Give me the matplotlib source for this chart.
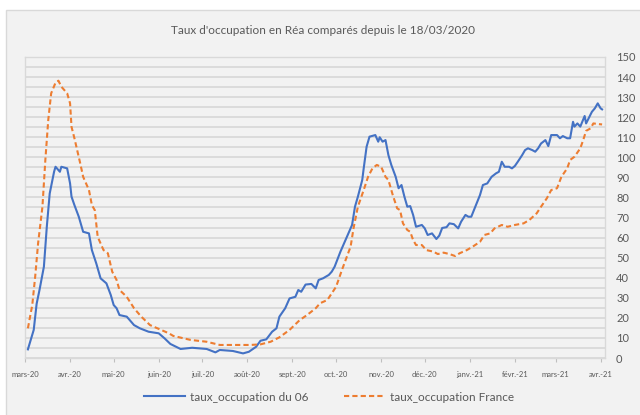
import matplotlib
matplotlib.use("Agg")
import matplotlib.pyplot as plt
from matplotlib.patches import Rectangle
import pandas as pd

# Jour 0 = 16/03/2020 (début de l'axe)
start = pd.Timestamp("2020-03-16")

# taux_occupation du 06 : (jour, valeur)
days_06 = [2, 6, 8, 10, 13, 15, 17, 20, 21, 24, 25, 29, 31, 32, 34, 37, 40, 44, 46, 49,
           52, 56, 59, 61, 63, 65, 70, 75, 79, 85, 92, 96, 100, 107, 115, 125, 131, 134, 143, 150,
           154, 159, 162, 166, 170, 173, 175, 179, 182, 186, 188, 190, 193, 197, 200, 202, 205, 209, 211, 213,
           217, 220, 222, 225, 227, 229, 232, 233, 235, 237, 241, 243, 244, 246, 248, 250, 252, 255, 257, 259,
           261, 263, 265, 267, 269, 273, 275, 277, 280, 283, 285, 287, 290, 292, 295, 298, 300, 303, 305, 307,
           310, 313, 315, 318, 321, 324, 326, 328, 330, 333, 335, 337, 339, 342, 344, 346, 349, 351, 353, 355,
           358, 360, 362, 366, 368, 370, 373, 375, 377, 378, 380, 382, 385, 386, 390, 392, 394, 396, 397]
vals_06 = [4.3, 14, 27, 34, 45.5, 65.4, 82, 92.8, 95.3, 92.8, 95.3, 94.5, 87, 80.4, 76.2, 70.4, 62.9, 62.1, 53.8, 47.2,
           39.7, 37.2, 31.4, 26.4, 24.8, 21.4, 20.6, 16.4, 14.8, 13.1, 12.3, 9.8, 7, 4.5, 5.1, 4.5, 2.8, 4, 3.5, 2.3,
           3.1, 5.6, 8.6, 9.3, 13.1, 14.8, 20.6, 24.8, 29.7, 30.5, 33.9, 33, 36.6, 36.9, 34.7, 38.9, 39.7, 41.4, 43, 45.5,
           53, 57.9, 61.3, 66.3, 75.4, 80.4, 88.7, 94.5, 105.3, 110.3, 111.1, 107.8, 110, 107.8, 108.6, 101.1, 96.2, 90.3, 84.6, 86.2,
           80.4, 75.4, 75.7, 71.3, 65.4, 66.3, 64.6, 61.3, 62.1, 59.3, 61, 64.8, 65.2, 67.1, 66.7, 64.6, 67.9, 71.3, 70.4, 70.4,
           75.8, 81.2, 86.2, 87, 90.3, 92, 92.8, 97.8, 95.3, 95.3, 94.5, 95.7, 97.8, 101.1, 103.6, 104.5, 103.6, 102.8, 104.5, 106.9,
           108.6, 105.6, 111.1, 111.1, 109.5, 110.6, 109.5, 109.5, 117.7, 115.3, 116.9, 115.3, 120.6, 116.9, 122.7, 124.4, 126.9, 124.4, 123.9]

# taux_occupation France : (jour, valeur)
days_fr = [2, 5, 7, 9, 12, 14, 16, 18, 21, 23, 25, 29, 31, 32, 34, 38, 40, 44, 46, 48,
           50, 54, 57, 60, 63, 65, 70, 75, 80, 86, 93, 99, 102, 114, 125, 134, 148, 155, 162, 169,
           175, 182, 189, 194, 200, 203, 208, 211, 214, 218, 221, 224, 226, 229, 233, 236, 239, 242, 245, 248,
           250, 253, 256, 258, 260, 263, 265, 267, 269, 273, 276, 281, 284, 288, 292, 296, 299, 304, 308, 313,
           316, 320, 323, 328, 332, 337, 343, 347, 352, 355, 359, 362, 366, 369, 373, 375, 378, 382, 384, 386,
           389, 391, 394, 397]
vals_fr = [14.8, 26.4, 40.5, 57.1, 75.4, 98.7, 118.6, 131.9, 137.2, 138.2, 135.2, 131.9, 126.9, 115.2, 109.5, 97, 90.3, 83.7, 76.2, 73.7,
           60.4, 53.8, 52.2, 43, 38.9, 33.9, 30.5, 24.8, 20.6, 16.4, 14.2, 12.3, 11, 9, 8.1, 6.5, 6.5, 6.5, 6.8, 8.1,
           10.3, 14, 18.9, 21.4, 24.8, 27.3, 28.9, 32.2, 35.5, 43.8, 49.7, 55.5, 64.6, 75.4, 83.7, 90.3, 94.5, 96.2, 95.3, 90.3,
           88.7, 81.2, 74.6, 73.7, 67.1, 63.8, 62.9, 58.8, 56.3, 56.3, 53.8, 53, 51.8, 52.5, 51.8, 50.8, 52.2, 53.8, 55.5, 57.9,
           61.3, 62.1, 64.6, 66.3, 65.4, 66.3, 67.1, 68.8, 72.1, 75.4, 79.6, 83.7, 84.6, 90.3, 94.5, 98.7, 100.3, 104.5, 108.6, 113.2,
           114.4, 116.9, 116.6, 116.4]

month_labels = ["mars-20", "avr.-20", "mai-20", "juin-20", "juil.-20", "août-20", "sept.-20",
                "oct.-20", "nov.-20", "déc.-20", "janv.-21", "févr.-21", "mars-21", "avr.-21"]

x_06 = start + pd.to_timedelta(days_06, unit="D")
x_fr = start + pd.to_timedelta(days_fr, unit="D")
ticks = [start + pd.DateOffset(months=i) for i in range(len(month_labels))]

plt.rcParams["font.family"] = ["Lato", "DejaVu Sans"]
fig = plt.figure(figsize=(6.4, 4.15), dpi=100, facecolor="white")
fig.patches.append(Rectangle((6 / 640, -0.05), 1.0, 1 - 10 / 415 + 0.05, transform=fig.transFigure,
                             facecolor="#f2f2f2", edgecolor="#d9d9d9", lw=1, zorder=-10))

ax = fig.add_axes([25 / 640, 1 - 358 / 415, 580 / 640, 301 / 415])
ax.set_facecolor("#f2f2f2")

ax.plot(x_06, vals_06, color="#4472c4", lw=1.5, label="taux_occupation du 06")
ax.plot(x_fr, vals_fr, color="#ed7d31", lw=1.5, ls=(0, (2.5, 1.5)), label="taux_occupation France")

ax.set_ylim(0, 150)
ax.set_xlim(start, start + pd.Timedelta(days=399))
ax.set_yticks(range(0, 151, 10))
ax.set_yticks(range(5, 150, 10), minor=True)
ax.yaxis.tick_right()
ax.tick_params(axis="y", which="both", length=0, labelsize=8, labelcolor="#595959", pad=8)
ax.grid(axis="y", which="both", color="#d9d9d9", lw=1.3)
ax.set_axisbelow(True)

ax.set_xticks(ticks)
ax.set_xticklabels(month_labels)
ax.tick_params(axis="x", length=3, color="#bfbfbf", labelsize=5.5, labelcolor="#595959", pad=6)

for s in ax.spines.values():
    s.set_color("#d9d9d9")
    s.set_linewidth(1)

fig.text(323 / 640, 1 - 30 / 415, "Taux d'occupation en Réa comparés depuis le 18/03/2020",
         ha="center", va="center", fontsize=8.5, color="#595959")

ax.legend(loc="center", bbox_to_anchor=(0.524, -0.13), ncol=2, frameon=False, fontsize=8.5,
          labelcolor="#595959", handlelength=3.5, columnspacing=3.0, handletextpad=0.4)

fig.savefig("out.png", dpi=100, facecolor="white")
